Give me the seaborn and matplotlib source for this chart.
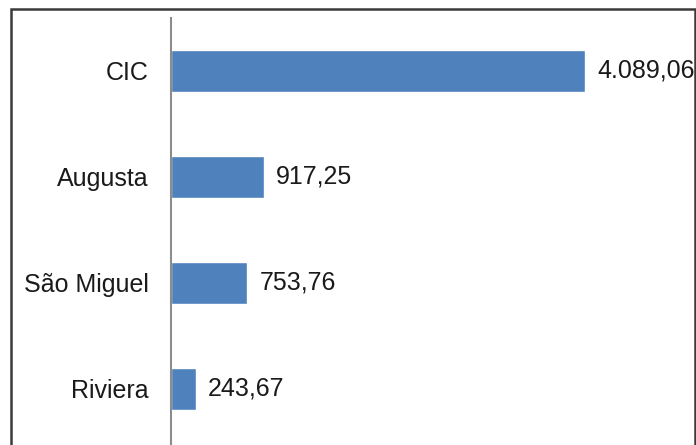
import matplotlib
matplotlib.use("Agg")
import matplotlib.pyplot as plt
import matplotlib.patches as patches
import seaborn as sns
import pandas as pd

# -----------------------------------------------------------
# Data
# -----------------------------------------------------------
categories = ["CIC", "Augusta", "São Miguel", "Riviera"]
values = [4089.06, 917.25, 753.76, 243.67]


def fmt_br(v):
    # 4089.06 -> "4.089,06"
    s = f"{v:,.2f}"
    return s.replace(",", "X").replace(".", ",").replace("X", ".")


df = pd.DataFrame({"local": categories, "valor": values})

# -----------------------------------------------------------
# Plot
# -----------------------------------------------------------
sns.set_theme(style="white")
plt.rcParams["font.family"] = ["Liberation Sans", "DejaVu Sans"]

W, H = 696, 445
fig = plt.figure(figsize=(W / 100, H / 100), dpi=100)
fig.patch.set_facecolor("white")

ax_left, ax_right = 171, 677
ax_top, ax_bottom = 18, 445
ax = fig.add_axes([ax_left / W, 1 - ax_bottom / H,
                   (ax_right - ax_left) / W, (ax_bottom - ax_top) / H])

sns.barplot(data=df, x="valor", y="local", color="#4F81BD",
            width=0.4, saturation=1, ax=ax)

ax.set_xlim(0, 5000)
ax.set_ylim(3.53, -0.5)
ax.set_xlabel("")
ax.set_ylabel("")
ax.set_xticks([])

for side in ["top", "right", "bottom"]:
    ax.spines[side].set_visible(False)
ax.spines["left"].set_color("#8c8c8c")
ax.spines["left"].set_linewidth(1.5)

ax.tick_params(axis="y", length=0, pad=16, labelsize=18, labelcolor="#1a1a1a")

for container in ax.containers:
    ax.bar_label(container, labels=[fmt_br(v) for v in values],
                 padding=9, fontsize=18, color="#1a1a1a", clip_on=False)

# outer frame (bottom edge cut off in the original)
fig.add_artist(patches.Rectangle((11 / W, -0.05), (695 - 11) / W, 1.05 - 8.5 / H,
                                 transform=fig.transFigure, fill=False,
                                 edgecolor="#3a3a3a", linewidth=1.8))

fig.savefig("out.png", dpi=100)
